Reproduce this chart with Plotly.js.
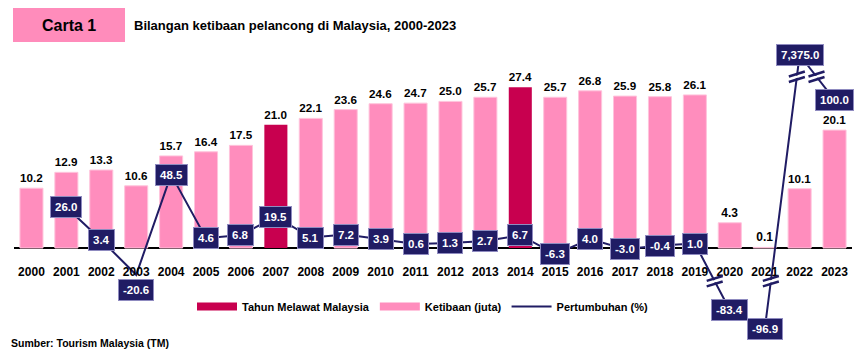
<!DOCTYPE html>
<html><head><meta charset="utf-8">
<script src="https://cdn.plot.ly/plotly-3.0.1.min.js"></script>
<style>html,body{margin:0;padding:0;background:#fff}#chart{width:868px;height:354px}</style>
</head><body><div id="chart"></div>
<script>
// ---- data ----
const years = ['2000','2001','2002','2003','2004','2005','2006','2007','2008','2009','2010','2011',
               '2012','2013','2014','2015','2016','2017','2018','2019','2020','2021','2022','2023'];
const arrivals = [10.2,12.9,13.3,10.6,15.7,16.4,17.5,21.0,22.1,23.6,24.6,24.7,
                  25.0,25.7,27.4,25.7,26.8,25.9,25.8,26.1,4.3,0.1,10.1,20.1];
const growth = [null,26.0,3.4,-20.6,48.5,4.6,6.8,19.5,5.1,7.2,3.9,0.6,
                1.3,2.7,6.7,-6.3,4.0,-3.0,-0.4,1.0,-83.4,-96.9,7375.0,100.0];
const visitYears = ['2007','2014'];

// ---- broken growth axis (library rangebreaks) ----
const growthBreaks = [[-63.6, -25], [116, 7360]];
const growthRange = [-107.6, 7381.9];

const FONT = 'Liberation Sans, Arial, sans-serif';
const NAVY = '#201C64', PINK = '#FF8DBD', CRIMSON = '#C8004F', HEAD = '#FF8CBB';

// growth values are carried on a date-typed axis so that Plotly's rangebreaks can break it
function toAxis(v){ const d = new Date(Date.UTC(2000,0,1) + v*3600000); return d.toISOString().slice(0,23).replace('T',' '); }
function eff(v){ let e = v; for (const [lo,hi] of growthBreaks){ if (v >= hi) e -= (hi-lo); } return e; }

const pinkY = arrivals.map((v,i)=> visitYears.includes(years[i]) ? null : v);
const crimY = arrivals.map((v,i)=> visitYears.includes(years[i]) ? v : null);

const barText = {family: FONT, size: 12, color: '#000', weight: 'bold'};
const traces = [
  {type:'bar', x: years, y: pinkY, marker:{color: PINK, line:{color:'#FFC4DC', width:1}},
   texttemplate:'%{y:.1f}', textposition:'outside', textfont: barText, cliponaxis:false,
   showlegend:false, hoverinfo:'x+y'},
  {type:'bar', x: years, y: crimY, marker:{color: CRIMSON}, texttemplate:'%{y:.1f}',
   textposition:'outside', textfont: barText, cliponaxis:false, showlegend:false, hoverinfo:'x+y'},
  {type:'scatter', mode:'lines', x: years, y: growth.map(v => v === null ? null : toAxis(v)),
   yaxis:'y2', line:{color: NAVY, width:2}, showlegend:false, connectgaps:false},
  // legend entries
  {type:'scatter', mode:'lines', x:[null], y:[null], name:'Tahun Melawat Malaysia', line:{color:CRIMSON, width:8}},
  {type:'scatter', mode:'lines', x:[null], y:[null], name:'Ketibaan (juta)', line:{color:PINK, width:8}},
  {type:'scatter', mode:'lines', x:[null], y:[null], name:'Pertumbuhan (%)', line:{color:NAVY, width:2}}
];

// growth labels (x as category index)
const annotations = [];
growth.forEach((v,i)=>{
  if (v === null) return;
  const isDip = v < -10 && v > growthBreaks[0][1];   // deep dip inside the main scale: label below the point
  annotations.push({
    x: i, y: toAxis(v), xref:'x', yref:'y2', showarrow:false,
    text: v.toLocaleString('en-US',{minimumFractionDigits:1, maximumFractionDigits:1}),
    font:{family:FONT, size:11.5, color:'#fff', weight:'bold'},
    bgcolor: NAVY, bordercolor:'#8F8BC0', borderwidth:1, borderpad:4,
    yshift: isDip ? -15 : 0
  });
});

// header and source
const px = x => (x - 14) / 838;
const py = y => (345 - y) / 300;
annotations.push({xref:'paper', yref:'paper', x: px(69), y: py(25), text:'Carta 1', showarrow:false,
  font:{family:FONT, size:16, color:'#000', weight:'bold'}, xanchor:'center', yanchor:'middle'});
annotations.push({xref:'paper', yref:'paper', x: px(9), y: py(343), text:'Sumber: Tourism Malaysia (TM)', showarrow:false,
  font:{family:FONT, size:10.5, color:'#000', weight:'bold'}, xanchor:'left', yanchor:'middle'});

// break marks where the growth line crosses an axis break
const shapes = [{type:'rect', xref:'paper', yref:'paper', x0: px(13), x1: px(125), y0: py(42), y1: py(8),
  fillcolor: HEAD, line:{width:0}, layer:'below'}];
for (let i = 0; i < growth.length - 1; i++){
  const a = growth[i], b = growth[i+1];
  if (a === null || b === null) continue;
  for (const [lo,hi] of growthBreaks){
    if (Math.min(a,b) < lo && Math.max(a,b) >= hi){
      const t = (eff(hi) - eff(a)) / (eff(b) - eff(a));
      const common = {xref:'x', yref:'y2', xsizemode:'pixel', ysizemode:'pixel', xanchor: i + t, yanchor: toAxis(hi + 0.01)};
      shapes.push(Object.assign({type:'path', path:'M-9,-4 L9,1.5 L9,4 L-9,-1.5 Z', fillcolor:'#fff', line:{width:0}}, common));
      shapes.push(Object.assign({type:'line', x0:-8, y0:-5.2, x1:8, y1:-0.3, line:{color:NAVY, width:2.5}}, common));
      shapes.push(Object.assign({type:'line', x0:-8, y0:0.3, x1:8, y1:5.2, line:{color:NAVY, width:2.5}}, common));
    }
  }
}

const layout = {
  width: 868, height: 354,
  margin: {l:14, r:16, t:45, b:9},
  paper_bgcolor:'#fff', plot_bgcolor:'#fff',
  barmode:'overlay', bargap:0.34,
  title: {text:'Bilangan ketibaan pelancong di Malaysia, 2000-2023', xref:'container', yref:'container',
          x: 134/868, xanchor:'left', y: 1 - 25/354, yanchor:'middle',
          font:{family:FONT, size:13, color:'#000', weight:'bold'}},
  xaxis: {type:'category', range:[-0.5, years.length - 0.5], autorange:false, anchor:'free', position: py(248),
          showline:false, showgrid:false, ticks:'outside', ticklen:13, tickcolor:'rgba(0,0,0,0)',
          tickfont:{family:FONT, size:12, color:'#000', weight:'bold'}, fixedrange:true},
  yaxis: {range:[-(345-248)/5.865, (248-45)/5.865], showticklabels:false, showgrid:false, showline:false,
          ticks:'', zeroline:true, zerolinecolor:'#000', zerolinewidth:2, fixedrange:true},
  yaxis2: {type:'date', overlaying:'y', side:'right', range:[toAxis(growthRange[0]), toAxis(growthRange[1])],
           autorange:false,
           rangebreaks: growthBreaks.map(b => ({bounds:[toAxis(b[0]), toAxis(b[1])]})),
           showticklabels:false, showgrid:false, showline:false, ticks:'', zeroline:false, fixedrange:true},
  legend: {orientation:'h', x: px(192), xanchor:'left', y: py(292), yanchor:'top',
           font:{family:FONT, size:11, color:'#000', weight:'bold'}, itemwidth:40, bgcolor:'rgba(0,0,0,0)'},
  annotations, shapes,
  showlegend:true
};

Plotly.newPlot('chart', traces, layout, {displayModeBar:false, staticPlot:true});
</script></body></html>
